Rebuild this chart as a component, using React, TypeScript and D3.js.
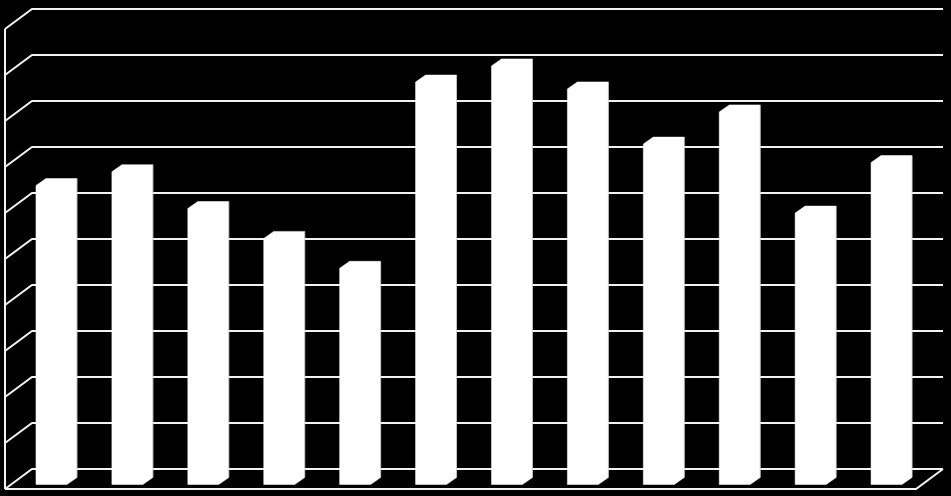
import { useEffect, useRef } from 'react'
import * as d3 from 'd3'

const CHART = {
    width: 951,
    height: 496,
    left: 32,      // back wall left
    right: 943,    // back wall right
    top: 9,
    bottom: 469,
    depthX: -27,   // offset from back wall to front edge
    depthY: 20,
}

const categories = ['1', '2', '3', '4', '5', '6', '7', '8', '9', '10', '11', '12']
const values = [65, 68, 60, 53.5, 47, 87.5, 91, 86, 74, 81, 59, 70]
const ticks = [0, 10, 20, 30, 40, 50, 60, 70, 80, 90, 100]

export default function App(){

    const svgRef = useRef<SVGSVGElement|null>(null)

    useEffect(()=>{
        document.body.style.margin = '0'
        document.body.style.background = '#000'

        const svg = d3.select(svgRef.current)
            .attr('width', CHART.width)
            .attr('height', CHART.height)
        svg.selectAll('*').remove()

        svg.append('rect')
            .attr('width', CHART.width)
            .attr('height', CHART.height)
            .attr('fill', '#000')

        const x = d3.scaleBand()
            .domain(categories)
            .range([CHART.left, CHART.right])
            .paddingInner(0.592)
            .paddingOuter(0.296)
        const y = d3.scaleLinear()
            .domain([0, 100])
            .range([CHART.bottom, CHART.top])

        const dx = CHART.depthX
        const dy = CHART.depthY
        const line = d3.line()

        /* back wall gridlines + left wall diagonals */
        const grid = svg.append('g')
            .attr('fill', 'none')
            .attr('stroke', '#f2f2f2')
            .attr('stroke-width', 2)
        grid.selectAll('.hgrid')
            .data(ticks)
            .enter()
            .append('path')
            .attr('d', (t:any) => line([[CHART.left + dx, y(t) + dy], [CHART.left, y(t)], [CHART.right, y(t)]]))

        // left wall front edge
        grid.append('path')
            .attr('d', line([[CHART.left + dx, y(100) + dy], [CHART.left + dx, y(0) + dy]]))
        // floor front edge + right diagonal
        grid.append('path')
            .attr('d', line([[CHART.left + dx, y(0) + dy], [CHART.right + dx, y(0) + dy], [CHART.right, y(0)]]))

        /* bars: back face shifted a little into the room, front face further */
        const back = { x: -8.5, y: 8.5 }
        const front = { x: -18.5, y: 15.5 }
        const bw = x.bandwidth()

        const bars = svg.append('g')
        categories.forEach((c, i) => {
            const bx = (x(c) as number) + back.x
            const fx = (x(c) as number) + front.x
            const top = y(values[i])
            const zero = y(0)
            const shape:[number, number][] = [
                [fx, top + front.y],
                [bx, top + back.y],
                [bx + bw, top + back.y],
                [bx + bw, zero + back.y],
                [fx + bw, zero + front.y],
                [fx, zero + front.y],
            ]
            bars.append('path')
                .attr('d', line(shape) + 'Z')
                .attr('fill', '#fff')
                .attr('stroke', '#fff')
                .attr('stroke-width', 0.5)
            // faint edge on the side
            bars.append('path')
                .attr('d', line([[bx + bw, top + back.y], [bx + bw, zero + back.y]]))
                .attr('stroke', '#bfbfbf')
                .attr('stroke-width', 0.6)
                .attr('fill', 'none')
        })
    },[])

    return <svg ref={svgRef} style={{display:'block'}}></svg>
}
